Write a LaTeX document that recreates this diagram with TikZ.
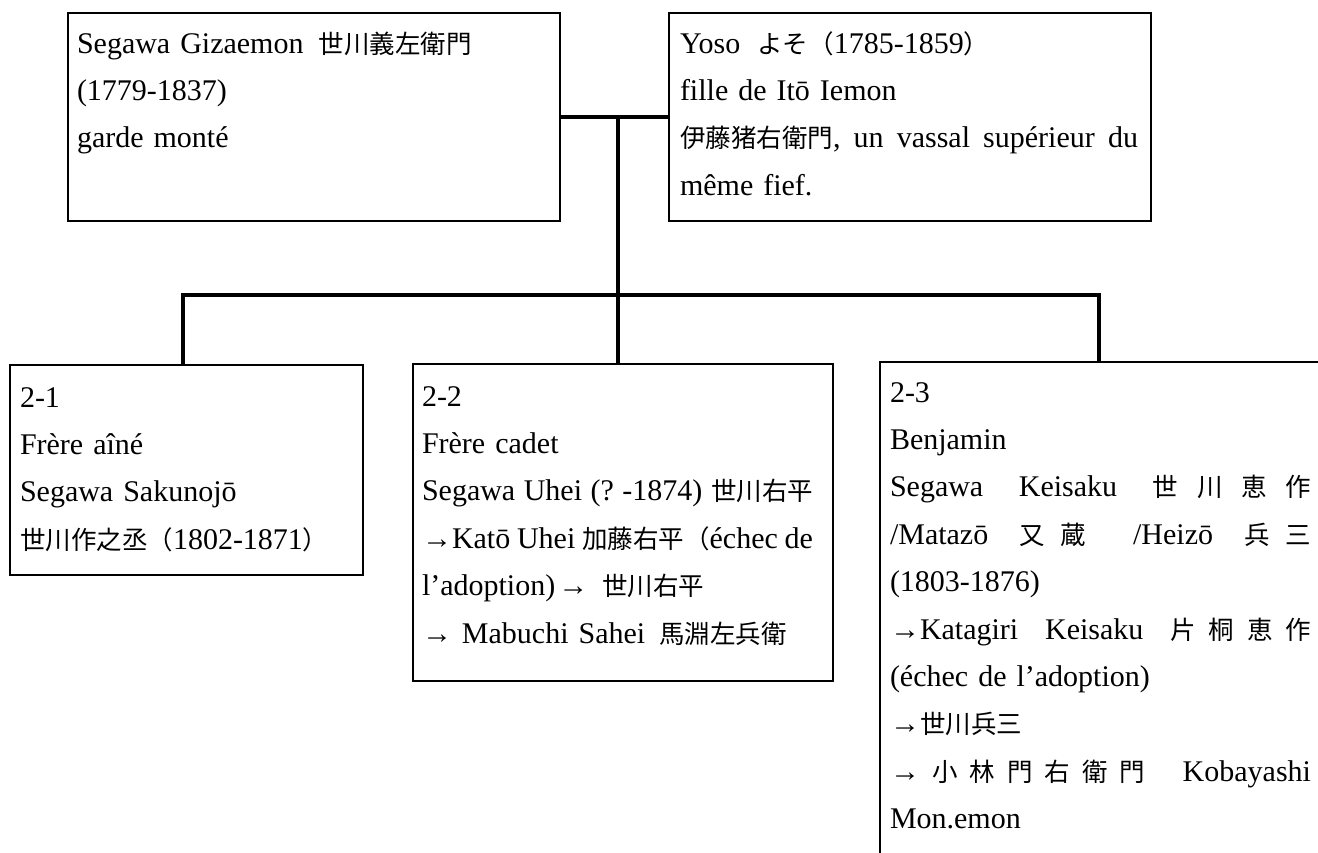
\documentclass[tikz,border=0pt]{standalone}
\usepackage{fontspec}
\setmainfont{Liberation Serif}
\newfontfamily\jpfont[Scale=0.85]{Noto Sans CJK JP}
\newcommand{\jp}[1]{{\jpfont #1}}
\newcommand{\firstline}{\noindent\rule{0pt}{40pt}}
\newcommand{\jline}[2]{\noindent\hbox to #1{#2}}
\newcommand{\gapL}{\hskip 7.5pt plus 1.5fil minus 2.5pt\relax}
\newcommand{\gapC}{\hskip 0pt plus 1fil\relax}
\usetikzlibrary{calc}
\tikzset{
  box/.style={draw, rectangle, line width=2.2pt, inner sep=0pt, outer sep=0pt, anchor=north west},
  conn/.style={line width=4.6pt},
  txt/.style={anchor=north west, inner sep=0pt, outer sep=0pt, align=left,
    font=\fontsize{30}{47.4}\selectfont},
}
\begin{document}
\begin{tikzpicture}[x=1pt, y=-1pt]
\useasboundingbox (0,0) rectangle (1318,852);
\fill[white] (0,0) rectangle (1318,852);
\clip (0,0) rectangle (1318,852);

% boxes
\node[box, minimum width=492pt, minimum height=208pt] (A) at (68,13) {};
\node[box, minimum width=482pt, minimum height=208pt] (B) at (669,13) {};
\node[box, minimum width=353pt, minimum height=210pt] (c1) at (10,365) {};
\node[box, minimum width=420pt, minimum height=317pt] (c2) at (413,364) {};
\node[box, minimum width=460pt, minimum height=560pt] (c3) at (880,362) {};

% texts
\node[txt, text width=470pt] (tA) at (77,13) {\firstline Segawa Gizaemon\hspace{15pt}\jp{世川義左衛門}\\
(1779-1837)\\
garde monté};

\node[txt, text width=460pt] (tB) at (680,13) {\firstline Yoso\hspace{17pt}\jp{よそ（}1785-1859\jp{）}\\
fille de Itō Iemon\\
\jline{458pt}{\jp{伊藤猪右衛門},\gapL un\gapL vassal\gapL supérieur\gapL du}\\
même fief.};

\node[txt, text width=335pt] (t1) at (20,367) {\firstline 2-1\\
Frère aîné\\
Segawa Sakunojō\\
\jp{世川作之丞（}1802-1871\jp{）}};

\node[txt, text width=400pt] (t2) at (422,366) {\firstline 2-2\\
Frère cadet\\
\jline{391pt}{Segawa\gapL Uhei\gapL (?\gapL -1874)\gapL\jp{世川右平}}\\
\jline{391pt}{→Katō\gapL Uhei\gapL\jp{加藤右平（}échec\gapL de}\\
l’adoption)\hspace{3pt}→\hspace{14pt}\jp{世川右平}\\
→ Mabuchi Sahei\hspace{14pt}\jp{馬淵左兵衛}};

\node[txt, text width=425pt] (t3) at (890,362) {\firstline 2-3\\
Benjamin\\
\jline{421pt}{Segawa\gapL Keisaku\gapL\jp{世}\gapC\jp{川}\gapC\jp{恵}\gapC\jp{作}}\\
\jline{421pt}{/Matazō\gapL\jp{又}\gapC\jp{蔵}\gapL\gapC/Heizō\gapL\jp{兵}\gapC\jp{三}}\\
(1803-1876)\\
\jline{421pt}{→Katagiri\gapL Keisaku\gapL\jp{片}\gapC\jp{桐}\gapC\jp{恵}\gapC\jp{作}}\\
(échec de l’adoption)\\
→\jp{世川兵三}\\
\jline{421pt}{→\gapC\jp{小}\gapC\jp{林}\gapC\jp{門}\gapC\jp{右}\gapC\jp{衛}\gapC\jp{門}\gapL\gapC Kobayashi}\\
Mon.emon};

% connectors
\coordinate (m) at (618,117);
\coordinate (bar) at (618,295);
\coordinate (d1) at ($(c1.north west)+(173,0)$);
\coordinate (d2) at ($(c2.north west)+(205,0)$);
\coordinate (d3) at ($(c3.north west)+(219,0)$);
\draw[conn] (A.east) -- (B.west);
\draw[conn] (m) -- (bar);
\draw[conn] (d1) -- (d1 |- bar) -- (d3 |- bar) -- (d3);
\draw[conn] (d2) -- (d2 |- bar);
\end{tikzpicture}
\end{document}
